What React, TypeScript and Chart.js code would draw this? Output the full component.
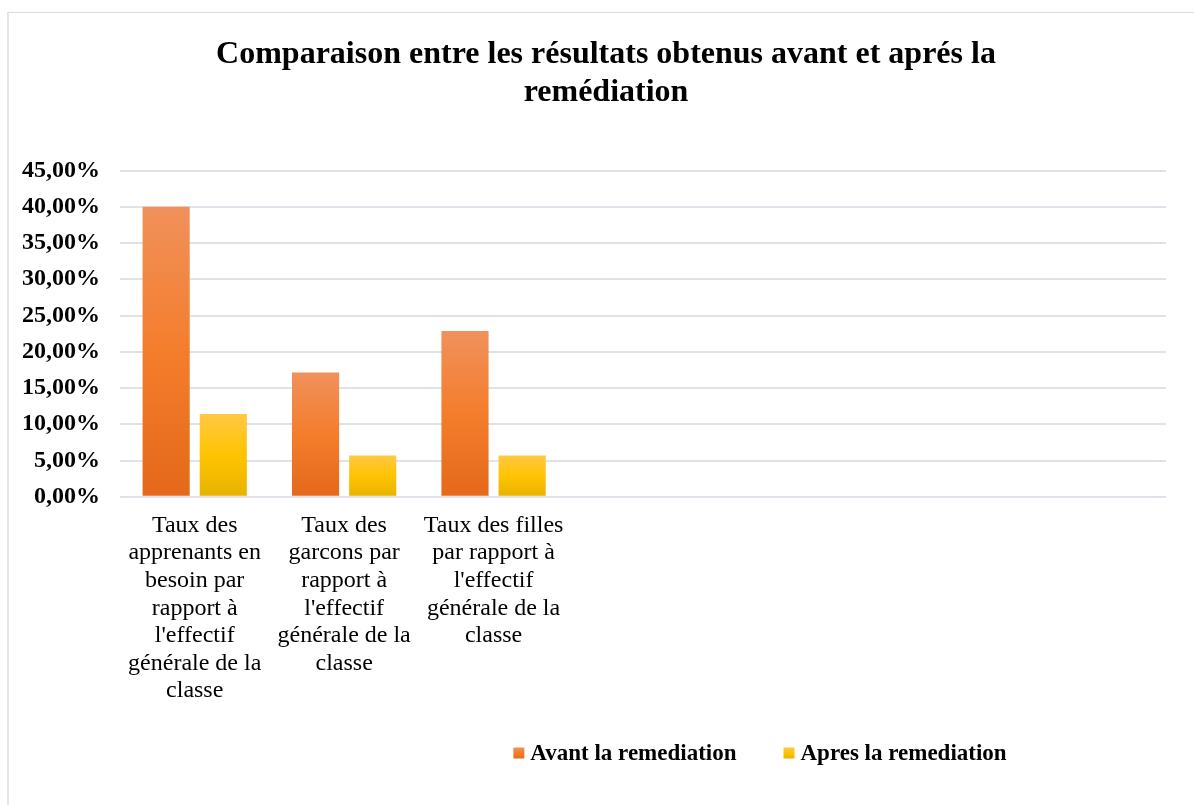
import React, { useEffect, useRef } from "react";
import { Chart, registerables } from "chart.js";

Chart.register(...registerables);

const chartTitle = ["Comparaison entre les résultats obtenus avant et aprés la", "remédiation"];

const categories: (string | string[])[] = [
  ["Taux des", "apprenants en", "besoin par", "rapport à", "l'effectif", "générale de la", "classe"],
  ["Taux des", "garcons par", "rapport à", "l'effectif", "générale de la", "classe"],
  ["Taux des filles", "par rapport à", "l'effectif", "générale de la", "classe"],
  "",
  "",
  "",
  "",
];

const seriesNames = ["Avant la remediation", "Apres la remediation"];
const avantValues = [0.4, 0.1714, 0.2286];
const apresValues = [0.1143, 0.0571, 0.0571];

const yMin = 0;
const yMax = 0.45;
const yStep = 0.05;

const FONT = "'Liberation Serif', 'Times New Roman', serif";

const orangeStops = ["#F0915C", "#F47D2C", "#E4691A"];
const yellowStops = ["#FFC844", "#FFC400", "#E7B300"];
const seriesStops = [orangeStops, yellowStops];

function gradientFill(stops: string[], solid: string) {
  return (ctx: any) => {
    const chart = ctx.chart;
    if (ctx.type !== "data" || !chart.chartArea) return solid;
    const y = chart.scales.y;
    const top = y.getPixelForValue(ctx.raw);
    const bottom = y.getPixelForValue(0);
    if (!isFinite(top) || !isFinite(bottom) || top === bottom) return solid;
    const g = chart.ctx.createLinearGradient(0, top, 0, bottom);
    g.addColorStop(0, stops[0]);
    g.addColorStop(0.5, stops[1]);
    g.addColorStop(1, stops[2]);
    return g;
  };
}

// shift the title block so it is centred like the original Excel title
const titleShift = {
  id: "titleShift",
  afterLayout(chart: any) {
    const t = chart.titleBlock;
    if (!t) return;
    t.left += 22;
    t.right += 22;
  },
};

// Excel-like legend: small square, short gap, bold label
const excelLegend = {
  id: "excelLegend",
  afterDraw(chart: any) {
    const ctx = chart.ctx;
    const centerX = 760;
    const centerY = 753;
    const box = 11;
    const boxGap = 6;
    const itemGap = 47;
    ctx.save();
    ctx.font = `bold 23px ${FONT}`;
    const items = chart.data.datasets.map((ds: any, i: number) => ({
      text: ds.label as string,
      stops: seriesStops[i],
      w: ctx.measureText(ds.label).width,
    }));
    const total = items.reduce((s: number, it: any) => s + box + boxGap + it.w, 0) + itemGap * (items.length - 1);
    let x = centerX - total / 2;
    ctx.textBaseline = "middle";
    ctx.textAlign = "left";
    items.forEach((it: any) => {
      const g = ctx.createLinearGradient(0, centerY - box / 2, 0, centerY + box / 2);
      g.addColorStop(0, it.stops[0]);
      g.addColorStop(0.5, it.stops[1]);
      g.addColorStop(1, it.stops[2]);
      ctx.fillStyle = g;
      ctx.fillRect(x, centerY - box / 2, box, box);
      x += box + boxGap;
      ctx.fillStyle = "#000";
      ctx.fillText(it.text, x, centerY + 1);
      x += it.w + itemGap;
    });
    ctx.restore();
  },
};

export default function App() {
  const ref = useRef<HTMLCanvasElement | null>(null);

  useEffect(() => {
    if (!ref.current) return;
    const chart = new Chart(ref.current, {
      type: "bar",
      data: {
        labels: categories,
        datasets: [
          {
            label: seriesNames[0],
            data: avantValues,
            backgroundColor: gradientFill(orangeStops, "#F27B2C"),
            barPercentage: 0.825,
            categoryPercentage: 0.765,
          },
          {
            label: seriesNames[1],
            data: apresValues,
            backgroundColor: gradientFill(yellowStops, "#FFC51C"),
            barPercentage: 0.825,
            categoryPercentage: 0.765,
          },
        ],
      },
      options: {
        responsive: false,
        animation: false,
        devicePixelRatio: 1,
        layout: { padding: { left: 2, right: 28, top: 36, bottom: 93 } },
        plugins: {
          title: {
            display: true,
            text: chartTitle,
            color: "#000",
            font: { family: FONT, size: 32, weight: "bold", lineHeight: 1.18 },
            padding: { top: 0, bottom: 59 },
          },
          legend: { display: false },
          tooltip: { enabled: false },
        },
        scales: {
          x: {
            grid: { display: false },
            border: { display: false },
            ticks: {
              color: "#000",
              font: { family: FONT, size: 24, lineHeight: 1.15 },
              maxRotation: 0,
              minRotation: 0,
              autoSkip: false,
              padding: 7,
            },
          },
          y: {
            min: yMin,
            max: yMax,
            border: { display: false },
            grid: { color: "#DEE2E9", lineWidth: 2, drawTicks: false },
            ticks: {
              stepSize: yStep,
              color: "#000",
              padding: 20,
              font: { family: FONT, size: 24, weight: "bold" },
              callback: (v: any) => (Number(v) * 100).toFixed(2).replace(".", ",") + "%",
            },
          },
        },
      },
      plugins: [titleShift, excelLegend],
    });
    return () => chart.destroy();
  }, []);

  return (
    <div style={{ position: "fixed", left: 0, top: 0, width: 1194, height: 805, background: "#fff", overflow: "hidden" }}>
      <div
        style={{
          position: "absolute",
          left: 7,
          top: 12,
          width: 1300,
          height: 900,
          borderTop: "1px solid #D9DBE1",
          borderLeft: "2px solid #E3E6EC",
        }}
      />
      <canvas ref={ref} width={1194} height={805} style={{ position: "absolute", left: 0, top: 0, width: 1194, height: 805 }} />
    </div>
  );
}
